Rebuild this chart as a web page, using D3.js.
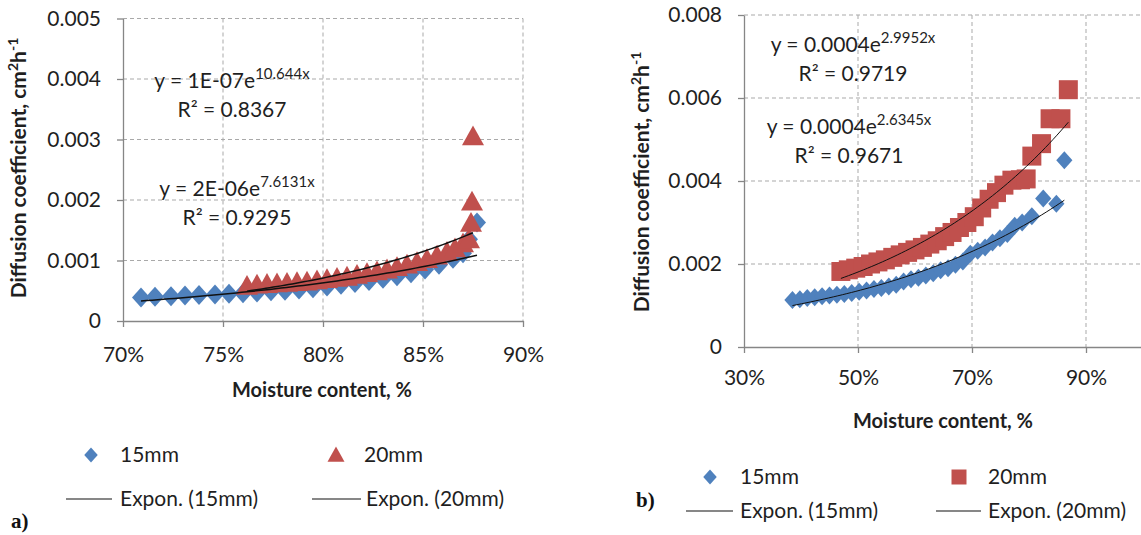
<!DOCTYPE html>
<html>
<head>
<meta charset="utf-8">
<script src="https://cdn.jsdelivr.net/npm/d3@7"></script>
<style>
  body { margin: 0; background: #fff; }
  svg { display: block; font-family: Lato, "Open Sans", sans-serif; }
</style>
</head>
<body>
<script>
/* values (moisture as fraction, diffusion in cm2/h) */
const moistA15 = [0.709, 0.716, 0.724, 0.731, 0.738, 0.746, 0.753, 0.760, 0.767, 0.774, 0.781, 0.788, 0.795,
                  0.802, 0.809, 0.816, 0.823, 0.830, 0.837, 0.844, 0.851, 0.858, 0.865, 0.870, 0.873, 0.877];
const diffA15 = [0.00039, 0.00040, 0.00041, 0.00042, 0.00043, 0.00044, 0.00045, 0.00046, 0.00047, 0.00049, 0.00050, 0.00052, 0.00054,
                 0.00057, 0.00060, 0.00063, 0.00066, 0.00070, 0.00074, 0.00079, 0.00085, 0.00093, 0.00103, 0.00112, 0.00135, 0.00163];
const moistA20 = [0.762, 0.767, 0.772, 0.777, 0.782, 0.787, 0.792, 0.797, 0.802, 0.807, 0.812, 0.817, 0.822, 0.827,
                  0.832, 0.837, 0.842, 0.847, 0.852, 0.857, 0.862, 0.866, 0.870, 0.873, 0.874, 0.8745, 0.875];
const diffA20 = [0.00058, 0.00060, 0.00061, 0.00062, 0.00063, 0.00064, 0.00065, 0.00067, 0.00069, 0.00071, 0.00073, 0.00076, 0.00079, 0.00082,
                 0.00085, 0.00089, 0.00093, 0.00097, 0.00102, 0.00108, 0.00114, 0.00120, 0.00128, 0.00135, 0.00162, 0.00197, 0.00305];

const moistB15 = [0.385, 0.398, 0.411, 0.424, 0.437, 0.450, 0.463, 0.476, 0.489, 0.502, 0.515, 0.528, 0.541, 0.554, 0.567,
                  0.580, 0.593, 0.606, 0.619, 0.632, 0.645, 0.658, 0.671, 0.684, 0.697, 0.710, 0.723, 0.736, 0.749, 0.762,
                  0.775, 0.788, 0.805, 0.825, 0.848, 0.862];
const diffB15 = [0.00113, 0.00115, 0.00118, 0.00120, 0.00122, 0.00124, 0.00126, 0.00128, 0.00130, 0.00133, 0.00136, 0.00140, 0.00142, 0.00146, 0.00150,
                 0.00158, 0.00163, 0.00167, 0.00172, 0.00178, 0.00185, 0.00190, 0.00198, 0.00206, 0.00225, 0.00232, 0.00240, 0.00252, 0.00262, 0.00272,
                 0.00292, 0.00300, 0.00315, 0.00358, 0.00345, 0.00450];
const moistB20 = [0.470, 0.483, 0.496, 0.509, 0.522, 0.535, 0.548, 0.561, 0.574, 0.587, 0.600, 0.613, 0.626, 0.639, 0.652, 0.665,
                  0.678, 0.691, 0.704, 0.717, 0.730, 0.743, 0.756, 0.770, 0.785, 0.795, 0.805, 0.822, 0.837, 0.856, 0.869];
const diffB20 = [0.00182, 0.00186, 0.00190, 0.00194, 0.00200, 0.00205, 0.00210, 0.00216, 0.00222, 0.00228, 0.00234, 0.00240, 0.00248, 0.00256, 0.00266, 0.00276,
                 0.00288, 0.00300, 0.00314, 0.00335, 0.00356, 0.00372, 0.00390, 0.00402, 0.00403, 0.00405, 0.00460, 0.00490, 0.00550, 0.00550, 0.00620];

const xTicksA = [0.70, 0.75, 0.80, 0.85, 0.90];
const yTicksA = [0, 0.001, 0.002, 0.003, 0.004, 0.005];
const xTicksB = [0.30, 0.50, 0.70, 0.90];
const yTicksB = [0, 0.002, 0.004, 0.006, 0.008];

/* trend line labels as printed on the chart: [base, exponent, R2] */
const eqA15 = ["y = 2E-06e", "7.6131x", "R² = 0.9295"];
const eqA20 = ["y = 1E-07e", "10.644x", "R² = 0.8367"];
const eqB15 = ["y = 0.0004e", "2.6345x", "R² = 0.9671"];
const eqB20 = ["y = 0.0004e", "2.9952x", "R² = 0.9719"];

const seriesNames = ["15mm", "20mm", "Expon. (15mm)", "Expon. (20mm)"];

const blue = "#4f81bd";
const red = "#c0504d";
const axisColor = "#868686";
const gridColor = "#a9a9a9";
const textColor = "#1f1f1f";

const svg = d3.select("body").append("svg")
    .attr("width", 1141)
    .attr("height", 535);

/*marker shapes, Excel style*/
function markerPath(shape, s){
    if(shape === "diamond"){
        return `M0,${-s}L${s*0.9},0L0,${s}L${-s*0.9},0Z`;
    }
    if(shape === "triangle"){
        return `M0,${-s}L${s},${s*0.8}L${-s},${s*0.8}Z`;
    }
    return `M${-s},${-s}H${s}V${s}H${-s}Z`;
}

/*exponential least squares fit on ln(y), same as the spreadsheet trendline*/
function expFit(xs, ys){
    const n = xs.length;
    const ly = ys.map(v=>Math.log(v));
    const sx = d3.sum(xs), sy = d3.sum(ly);
    const sxx = d3.sum(xs, v=>v*v);
    const sxy = d3.sum(xs, (v,i)=>v*ly[i]);
    const b = (n*sxy - sx*sy)/(n*sxx - sx*sx);
    const a = Math.exp((sy - b*sx)/n);
    return v=>a*Math.exp(b*v);
}

function drawPanel(p){
    const x = d3.scaleLinear().domain(p.xDomain).range([p.left, p.right]);
    const y = d3.scaleLinear().domain(p.yDomain).range([p.bottom, p.top]);
    const g = svg.append("g");

    /*dashed gridlines*/
    g.append("g").selectAll("line")
        .data(p.yTicks.filter(v=>v>0))
        .join("line")
        .attr("x1", p.left).attr("x2", p.right)
        .attr("y1", d=>y(d)).attr("y2", d=>y(d))
        .attr("stroke", gridColor).attr("stroke-dasharray", "4,3");
    g.append("g").selectAll("line")
        .data(p.xTicks.slice(1))
        .join("line")
        .attr("x1", d=>x(d)).attr("x2", d=>x(d))
        .attr("y1", p.top).attr("y2", p.bottom)
        .attr("stroke", gridColor).attr("stroke-dasharray", "4,3");

    const yAxis = g.append("g")
        .attr("transform", `translate(${p.left},0)`)
        .call(d3.axisLeft(y).tickValues(p.yTicks).tickSize(6).tickSizeOuter(0)
              .tickPadding(p.yPad).tickFormat(d=>d===0 ? "0" : d3.format(".3f")(d)));
    const xAxis = g.append("g")
        .attr("transform", `translate(0,${p.bottom})`)
        .call(d3.axisBottom(x).tickValues(p.xTicks).tickSize(6).tickSizeOuter(0)
              .tickPadding(p.xPad).tickFormat(d3.format(".0%")));
    [yAxis, xAxis].forEach(a=>{
        a.select(".domain").attr("stroke", axisColor).attr("stroke-width", 1.3);
        a.selectAll(".tick line").attr("stroke", axisColor).attr("stroke-width", 1.3);
        a.selectAll("text").attr("font-size", 21).attr("fill", textColor).attr("font-family", "Lato");
    });

    /*data markers, 15mm under 20mm*/
    g.append("g").selectAll("path")
        .data(d3.zip(p.x15, p.y15))
        .join("path")
        .attr("transform", d=>`translate(${x(d[0])},${y(d[1])})`)
        .attr("d", markerPath("diamond", p.size15))
        .attr("fill", blue);
    g.append("g").selectAll("path")
        .data(d3.zip(p.x20, p.y20))
        .join("path")
        .attr("transform", d=>`translate(${x(d[0])},${y(d[1])})`)
        .attr("d", markerPath(p.shape20, p.size20))
        .attr("fill", red);

    /*trendlines*/
    [[p.x15, p.y15], [p.x20, p.y20]].forEach(s=>{
        const f = expFit(s[0], s[1]);
        const xs = d3.range(61).map(i=>d3.min(s[0]) + (d3.max(s[0]) - d3.min(s[0]))*i/60);
        g.append("path")
            .datum(xs)
            .attr("fill", "none")
            .attr("stroke", "#111")
            .attr("stroke-width", p.trendWidth)
            .attr("d", d3.line().x(v=>x(v)).y(v=>y(f(v))));
    });

    /*equation labels*/
    p.eqs.forEach(e=>{
        const t = g.append("text")
            .attr("x", e.x).attr("y", e.y)
            .attr("text-anchor", "middle")
            .attr("font-size", 21).attr("fill", textColor);
        t.append("tspan").text(e.lab[0]);
        t.append("tspan").attr("dy", -9).attr("font-size", 15).text(e.lab[1]);
        g.append("text")
            .attr("x", e.x).attr("y", e.y + 29)
            .attr("text-anchor", "middle")
            .attr("font-size", 21).attr("fill", textColor)
            .text(e.lab[2]);
    });

    /*axis titles*/
    g.append("text")
        .attr("x", p.xTitle[0]).attr("y", p.xTitle[1])
        .attr("text-anchor", "middle")
        .attr("font-size", 20).attr("font-weight", "bold").attr("fill", textColor)
        .text("Moisture content, %");
    const yt = g.append("text")
        .attr("transform", `translate(${p.yTitle[0]},${p.yTitle[1]}) rotate(-90)`)
        .attr("text-anchor", "middle")
        .attr("font-size", 21).attr("font-weight", "bold").attr("fill", textColor);
    yt.append("tspan").text("Diffusion coefficient, cm");
    yt.append("tspan").attr("dy", -8).attr("font-size", 14).text("2");
    yt.append("tspan").attr("dy", 8).text("h");
    yt.append("tspan").attr("dy", -8).attr("font-size", 14).text("-1");

    /*legend*/
    const lg = g.append("g").attr("font-size", 21).attr("fill", textColor);
    const L = p.legend;
    lg.append("path").attr("transform", `translate(${L.m1[0]},${L.m1[1]})`)
        .attr("d", markerPath("diamond", 7.5)).attr("fill", blue);
    lg.append("path").attr("transform", `translate(${L.m2[0]},${L.m2[1]})`)
        .attr("d", markerPath(p.shape20, p.shape20 === "square" ? 7.5 : 8.5)).attr("fill", red);
    lg.append("line").attr("x1", L.l1[0]).attr("x2", L.l1[1]).attr("y1", L.l1[2]).attr("y2", L.l1[2])
        .attr("stroke", "#111").attr("stroke-width", 1.2);
    lg.append("line").attr("x1", L.l2[0]).attr("x2", L.l2[1]).attr("y1", L.l2[2]).attr("y2", L.l2[2])
        .attr("stroke", "#111").attr("stroke-width", 1.2);
    lg.selectAll("text")
        .data(seriesNames)
        .join("text")
        .attr("x", (d,i)=>L.t[i][0]).attr("y", (d,i)=>L.t[i][1] + 7)
        .text(d=>d);

    g.append("text")
        .attr("x", p.tag[1]).attr("y", p.tag[2])
        .attr("font-family", "Liberation Serif, DejaVu Serif, serif")
        .attr("font-weight", "bold").attr("font-size", 21).attr("fill", "#111")
        .text(p.tag[0]);
}

drawPanel({
    xDomain: [0.70, 0.90], yDomain: [0, 0.005],
    left: 123, right: 523, top: 18.5, bottom: 321,
    xTicks: xTicksA, yTicks: yTicksA, yPad: 16, xPad: 20,
    x15: moistA15, y15: diffA15, x20: moistA20, y20: diffA20,
    shape20: "triangle", size15: 10, size20: 11, trendWidth: 1.5,
    eqs: [{x: 232, y: 88, lab: eqA20}, {x: 237, y: 196, lab: eqA15}],
    xTitle: [322, 397], yTitle: [26, 168],
    legend: {m1: [91, 455], m2: [336, 455], l1: [66, 112, 499], l2: [312, 361, 499],
             t: [[120, 455], [364, 455], [120, 499], [366, 499]]},
    tag: ["a)", 11, 528]
});

drawPanel({
    xDomain: [0.30, 1.00], yDomain: [0, 0.008],
    left: 744, right: 1143, top: 15, bottom: 347,
    xTicks: xTicksB, yTicks: yTicksB, yPad: 16, xPad: 17,
    x15: moistB15, y15: diffB15, x20: moistB20, y20: diffB20,
    shape20: "square", size15: 9, size20: 9.5, trendWidth: 1,
    eqs: [{x: 853, y: 52, lab: eqB20}, {x: 849, y: 134, lab: eqB15}],
    xTitle: [943, 428], yTitle: [649, 182],
    legend: {m1: [710, 477], m2: [959, 477], l1: [686, 733, 511], l2: [936, 981, 511],
             t: [[740, 477], [988, 477], [740, 511], [988, 511]]},
    tag: ["b)", 636, 507]
});
</script>
</body>
</html>
